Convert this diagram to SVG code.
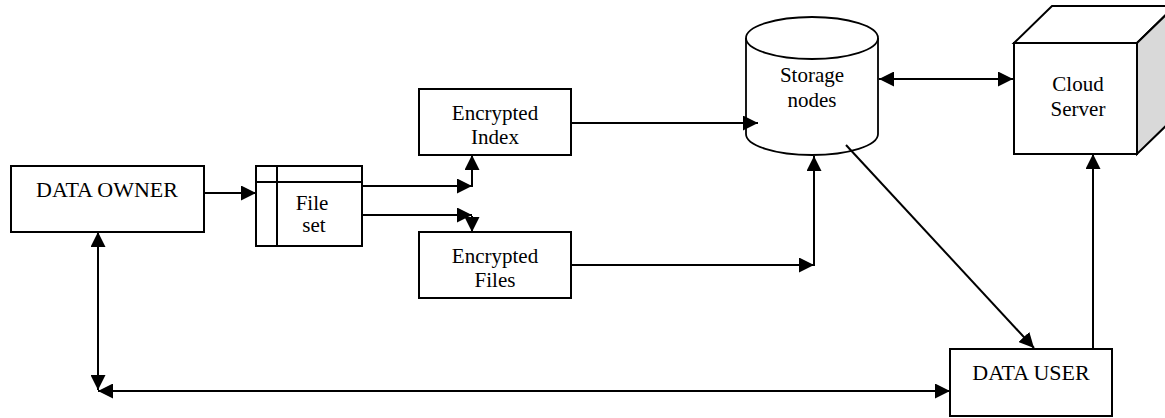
<svg xmlns="http://www.w3.org/2000/svg" width="1165" height="418" viewBox="0 0 1165 418">
<defs>
<marker id="ah" markerUnits="userSpaceOnUse" markerWidth="15" markerHeight="15" viewBox="0 0 15 15" refX="15" refY="7.5" orient="auto-start-reverse">
<path d="M0,0 L15,7.5 L0,15 z" fill="#000"/>
</marker>
<style>
.box{fill:#fff;stroke:#000;stroke-width:2}
.t{font-family:'Liberation Serif',serif;font-size:21px;fill:#000;text-anchor:middle}
.u{font-size:22px}
.c{fill:none;stroke:#000;stroke-width:2}
.a{marker-end:url(#ah)}
.b{marker-start:url(#ah);marker-end:url(#ah)}
</style>
</defs>
<rect width="1165" height="418" fill="#fff"/>
<g id="data-owner">
<rect class="box" x="11" y="166" width="193" height="66"/>
<text class="t u" x="107" y="197">DATA OWNER</text>
</g>
<g id="file-set">
<rect class="box" x="256" y="166" width="106" height="80"/>
<line class="c" x1="277" y1="166" x2="277" y2="246"/>
<line class="c" x1="256" y1="182" x2="362" y2="182"/>
<text class="t" x="312" y="210">File</text>
<text class="t" x="314" y="232">set</text>
</g>
<g id="encrypted-index">
<rect class="box" x="419" y="89" width="152" height="66"/>
<text class="t" x="495" y="120">Encrypted</text>
<text class="t" x="495" y="144">Index</text>
</g>
<g id="encrypted-files">
<rect class="box" x="419" y="232" width="152" height="66"/>
<text class="t" x="495" y="263">Encrypted</text>
<text class="t" x="495" y="287">Files</text>
</g>
<g id="storage-nodes">
<path d="M746,38 L746,134 A66,21 0 0 0 878,134 L878,38 A66,21 0 0 0 746,38 Z" fill="#fff" stroke="#000" stroke-width="1.8"/>
<path d="M746,38 A66,21 0 0 0 878,38" fill="none" stroke="#000" stroke-width="1.8"/>
<text class="t" x="812" y="82">Storage</text>
<text class="t" x="812" y="107">nodes</text>
</g>
<g id="cloud-server">
<polygon points="1014,43 1052,6 1175,6 1137,43" fill="#fff" stroke="#000" stroke-width="2"/>
<polygon points="1137,43 1175,6 1175,117 1137,154" fill="#d9d9d9" stroke="#000" stroke-width="2"/>
<rect class="box" x="1014" y="43" width="123" height="111"/>
<text class="t" x="1078" y="91">Cloud</text>
<text class="t" x="1078" y="116">Server</text>
</g>
<g id="data-user">
<rect class="box" x="950" y="349" width="162" height="67"/>
<text class="t u" x="1031" y="380">DATA USER</text>
</g>
<g id="connectors">
<line class="c a" x1="204" y1="193" x2="256" y2="193"/>
<line class="c a" x1="362" y1="186" x2="472" y2="186"/>
<line class="c a" x1="472" y1="187" x2="472" y2="155"/>
<line class="c a" x1="362" y1="215" x2="472" y2="215"/>
<line class="c a" x1="472" y1="216" x2="472" y2="232"/>
<line class="c a" x1="571" y1="123" x2="758" y2="123"/>
<line class="c a" x1="571" y1="265" x2="814" y2="265"/>
<line class="c a" x1="814" y1="266" x2="814" y2="156"/>
<line class="c b" x1="879" y1="79" x2="1013" y2="79"/>
<line class="c a" x1="846" y1="145" x2="1034" y2="348"/>
<line class="c a" x1="1093" y1="349" x2="1093" y2="154"/>
<line class="c b" x1="98" y1="232" x2="98" y2="390"/>
<line class="c b" x1="98" y1="391" x2="950" y2="391"/>
</g>
</svg>
